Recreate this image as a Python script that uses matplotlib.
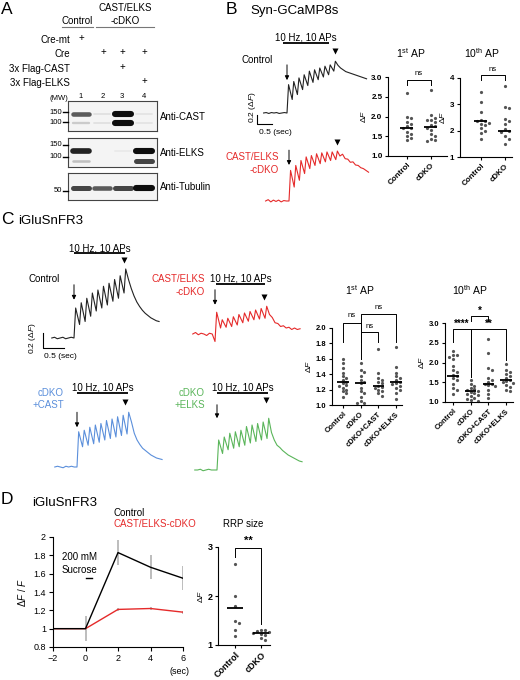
import matplotlib
matplotlib.use("Agg")
import matplotlib.pyplot as plt
from matplotlib.lines import Line2D

W, H = 520, 680

plt.rcParams['font.family'] = ['Liberation Sans', 'DejaVu Sans']
plt.rcParams['mathtext.fontset'] = 'custom'
plt.rcParams['mathtext.rm'] = 'Liberation Sans'
plt.rcParams['mathtext.it'] = 'Liberation Sans:italic'
plt.rcParams['mathtext.bf'] = 'Liberation Sans:bold'
plt.rcParams['axes.linewidth'] = 0.8

RED = '#e52a2a'
BLUE = '#5b8fdb'
GREEN = '#5ab55a'
DOT = '#555555'
ERR = '#b8b8b8'

# ---------------- A: western blot ----------------
lane_ids = ['1', '2', '3', '4']
cre_mt = [1, 0, 0, 0]
cre = [0, 1, 1, 1]
flag_cast = [0, 0, 1, 0]
flag_elks = [0, 0, 0, 1]
cast_150 = [0.65, 0.05, 1.0, 0.04]
cast_100 = [0.15, 0.05, 1.0, 0.04]
elks_150 = [0.9, 0.0, 0.02, 1.0]
elks_100 = [0.2, 0.0, 0.0, 0.75]
tub_50 = [0.75, 0.65, 0.75, 1.0]

# ---------------- B: Syn-GCaMP8s traces (dF) ----------------
# baseline every 50 ms, then the value before / at peak of each AP, then decay every 50 ms
gc_ctrl_base = [0.0, 0.01, -0.01, 0.01, 0.0, 0.01, -0.01, 0.0, 0.01]
gc_ctrl_trough = [0.0, 0.30, 0.41, 0.52, 0.61, 0.68, 0.74, 0.80, 0.85, 0.93]
gc_ctrl_peak = [0.63, 0.70, 0.78, 0.85, 0.93, 0.96, 1.00, 1.04, 1.07, 1.15]
gc_ctrl_tail = [1.06, 1.0, 0.96, 0.92, 0.9, 0.88, 0.86, 0.84, 0.82, 0.8, 0.78, 0.76]

gc_dko_base = [0.0, 0.03, -0.02, 0.02, -0.01, 0.02, -0.02, 0.01, 0.0]
gc_dko_trough = [0.0, 0.31, 0.46, 0.61, 0.72, 0.79, 0.83, 0.87, 0.90, 0.92]
gc_dko_peak = [0.68, 0.79, 0.90, 0.98, 1.01, 1.05, 1.07, 1.09, 1.09, 1.11]
gc_dko_tail = [1.0, 1.04, 0.94, 0.93, 0.86, 0.87, 0.8, 0.79, 0.74, 0.72, 0.68, 0.64]

b1_ctrl = [2.6, 2.0, 1.95, 1.85, 1.8, 1.75, 1.72, 1.7, 1.62, 1.55, 1.5, 1.45, 1.4]
b1_dko = [2.67, 2.03, 1.97, 1.92, 1.9, 1.85, 1.78, 1.75, 1.72, 1.65, 1.55, 1.5, 1.42, 1.4, 1.38]
b1_mid = [1.72, 1.73]
b10_ctrl = [3.45, 3.1, 2.7, 2.4, 2.35, 2.35, 2.3, 2.25, 2.2, 2.1, 2.0, 1.9, 1.7]
b10_dko = [3.7, 2.9, 2.85, 2.45, 2.35, 2.25, 2.05, 2.0, 1.95, 1.8, 1.7, 1.5]
b10_mid = [2.35, 2.0]
b_groups = ['Control', 'cDKO']

# ---------------- C: iGluSnFR3 traces (dF) ----------------
ig_ctrl_base = [0.0, 0.01, -0.01, 0.0, 0.01, -0.01, 0.0, 0.01]
ig_ctrl_trough = [0.0, 0.18, 0.22, 0.29, 0.36, 0.40, 0.44, 0.49, 0.53, 0.60]
ig_ctrl_peak = [0.40, 0.47, 0.53, 0.60, 0.64, 0.69, 0.73, 0.78, 0.83, 0.92]
ig_ctrl_tail = [0.78, 0.66, 0.56, 0.48, 0.42, 0.37, 0.33, 0.30, 0.27, 0.25, 0.23, 0.22]

ig_dko_base = [0.0, 0.02, -0.01, 0.01, 0.0, -0.02, 0.01, 0.0]
ig_dko_trough = [-0.10, 0.08, 0.09, 0.10, 0.12, 0.15, 0.17, 0.19, 0.20, 0.21]
ig_dko_peak = [0.29, 0.19, 0.21, 0.23, 0.26, 0.28, 0.30, 0.32, 0.34, 0.37]
ig_dko_tail = [0.26, 0.22, 0.15, 0.14, 0.10, 0.11, 0.08, 0.09, 0.06, 0.08, 0.06, 0.07]

ig_cast_base = [0.0, 0.01, 0.0, -0.01, 0.01, 0.0, 0.01, 0.0]
ig_cast_trough = [0.0, 0.27, 0.29, 0.31, 0.33, 0.36, 0.38, 0.40, 0.42, 0.44]
ig_cast_peak = [0.47, 0.49, 0.53, 0.56, 0.58, 0.62, 0.64, 0.67, 0.69, 0.73]
ig_cast_tail = [0.6, 0.45, 0.36, 0.30, 0.25, 0.22, 0.19, 0.16, 0.14, 0.12, 0.11, 0.1]

ig_elks_base = [0.0, 0.0, 0.01, -0.01, 0.0, 0.01, 0.0, 0.0]
ig_elks_trough = [0.0, 0.22, 0.27, 0.29, 0.31, 0.33, 0.36, 0.38, 0.40, 0.42]
ig_elks_peak = [0.40, 0.44, 0.49, 0.51, 0.53, 0.58, 0.60, 0.62, 0.64, 0.69]
ig_elks_tail = [0.50, 0.40, 0.33, 0.30, 0.26, 0.23, 0.20, 0.18, 0.16, 0.14, 0.12, 0.11]

c_groups = ['Control', 'cDKO', 'cDKO+CAST', 'cDKO+ELKS']
c1_vals = [
    [1.6, 1.55, 1.48, 1.42, 1.38, 1.35, 1.32, 1.3, 1.28, 1.26, 1.25, 1.22, 1.2, 1.18, 1.15, 1.1],
    [1.55, 1.45, 1.43, 1.38, 1.32, 1.3, 1.28, 1.22, 1.18, 1.15, 1.1, 1.05, 1.03, 1.02],
    [1.73, 1.42, 1.35, 1.33, 1.3, 1.28, 1.25, 1.24, 1.22, 1.2, 1.18, 1.15, 1.12],
    [1.75, 1.5, 1.42, 1.38, 1.35, 1.32, 1.3, 1.28, 1.27, 1.25, 1.22, 1.2, 1.15, 1.08],
]
c1_mid = [1.3, 1.28, 1.25, 1.3]
c10_vals = [
    [2.28, 2.2, 2.18, 2.15, 2.1, 1.9, 1.8, 1.75, 1.68, 1.65, 1.6, 1.55, 1.45, 1.35, 1.3, 1.2],
    [1.55, 1.45, 1.4, 1.35, 1.32, 1.3, 1.28, 1.25, 1.22, 1.2, 1.18, 1.15, 1.1, 1.08, 1.05, 1.03],
    [2.6, 2.25, 1.85, 1.8, 1.6, 1.55, 1.5, 1.45, 1.45, 1.42, 1.4, 1.3, 1.2, 1.1],
    [1.95, 1.8, 1.75, 1.7, 1.65, 1.6, 1.55, 1.52, 1.5, 1.48, 1.42, 1.38, 1.3, 1.28],
]
c10_mid = [1.66, 1.28, 1.45, 1.56]

# ---------------- D: sucrose ----------------
d_time = [-2, 0, 2, 4, 6]
d_ctrl = [1.0, 1.0, 1.83, 1.67, 1.55]
d_ctrl_err = [0.0, 0.14, 0.14, 0.13, 0.13]
d_dko = [1.0, 1.0, 1.21, 1.22, 1.18]
d_dko_err = [0.0, 0.0, 0.015, 0.015, 0.015]
rrp_ctrl = [2.65, 2.0, 1.8, 1.5, 1.45, 1.3, 1.18]
rrp_dko = [1.3, 1.3, 1.28, 1.26, 1.25, 1.22, 1.2, 1.15, 1.1]
rrp_mid = [1.75, 1.25]

fig = plt.figure(figsize=(W / 100, H / 100), dpi=100)


def px_axes(l, t, r, b):
    return fig.add_axes([l / W, 1 - b / H, (r - l) / W, (b - t) / H])


def ft(x, y, s, **kw):
    kw.setdefault('va', 'center')
    kw.setdefault('fontsize', 7)
    fig.text(x / W, 1 - y / H, s, **kw)


def fline(x1, y1, x2, y2, **kw):
    kw.setdefault('color', 'k')
    kw.setdefault('lw', 0.8)
    fig.add_artist(Line2D([x1 / W, x2 / W], [1 - y1 / H, 1 - y2 / H], **kw))


# headers
ft(1, 9, 'A', fontsize=12.5)
ft(226, 10, 'B', fontsize=12.5)
ft(250, 11, 'Syn-GCaMP8s', fontsize=9.5)
ft(1, 219, 'C', fontsize=12.5)
ft(18, 221, 'iGluSnFR3', fontsize=9.5)
ft(1, 500, 'D', fontsize=12.5)
ft(32, 503, 'iGluSnFR3', fontsize=9.5)

# ---- A ----
lane_px = [81, 103, 122, 144]
ft(77, 21, 'Control', ha='center')
fline(62, 27, 93, 27, color='#777')
ft(125, 8, 'CAST/ELKS', ha='center')
ft(125, 21, '-cDKO', ha='center')
fline(96, 27, 154, 27, color='#777')
for row, (name, flags) in enumerate([('Cre-mt', cre_mt), ('Cre', cre),
                                      ('3x Flag-CAST', flag_cast), ('3x Flag-ELKS', flag_elks)]):
    y = 40 + row * 14.3
    ft(70, y, name, ha='right')
    for xp, f in zip(lane_px, flags):
        if f:
            ft(xp, y - 2, '+', ha='center', fontsize=7)
ft(68, 98, '(MW)', ha='right', fontsize=5.5)
for xp, s in zip(lane_px, lane_ids):
    ft(xp, 97, s, ha='center', fontsize=5.5)

blots = [
    ((68, 101, 157, 131), [(114, cast_150), (123, cast_100)], [(112, '150'), (122, '100')], 'Anti-CAST'),
    ((68, 138, 157, 167), [(151, elks_150), (161, elks_100)], [(145, '150'), (157, '100')], 'Anti-ELKS'),
    ((68, 173, 157, 200), [(188, tub_50)], [(191, '50')], 'Anti-Tubulin'),
]
for box, bands, markers, name in blots:
    ax = px_axes(*box)
    ax.set_facecolor('#f4f4f4')
    ax.set_xlim(0.38, 4.62)
    ax.set_ylim(box[3], box[1])
    for yb, inten in bands:
        for ln, v in zip(range(1, 5), inten):
            if v > 0.01:
                g = 0.93 - 0.88 * v
                ax.plot([ln - 0.36, ln + 0.36], [yb, yb], color=str(g),
                        lw=1.2 + 3.2 * v, solid_capstyle='round')
    ax.set_xticks([])
    ax.set_yticks([])
    for s in ax.spines.values():
        s.set_color('#444')
    for ym, lab in markers:
        ft(62, ym, lab, ha='right', fontsize=5.5)
        fline(63, ym, 68, ym, lw=1.0)
    ft(160, (box[1] + box[3]) / 2 + 1, name)


# ---- trace helpers ----
def build_trace(base, troughs, peaks, tail, dt=0.05, isi=0.1, rise=0.03):
    t = [-(len(base) - i) * dt for i in range(len(base))]
    v = list(base)
    for k in range(len(peaks)):
        t += [k * isi, k * isi + rise]
        v += [troughs[k], peaks[k]]
    t_end = (len(peaks) - 1) * isi + rise
    t += [t_end + (i + 1) * dt for i in range(len(tail))]
    v += list(tail)
    return t, v


def trace_axes(box, x0, y0, pxs, pxu):
    l, t, r, b = box
    ax = px_axes(l, t, r, b)
    ax.set_xlim((l - x0) / pxs, (r - x0) / pxs)
    ax.set_ylim((y0 - b) / pxu, (y0 - t) / pxu)
    ax.axis('off')
    return ax


def decorate(ax, arrow, tri, bar=None):
    if bar is not None:
        t0, t1, yb = bar
        ax.plot([t0, t1], [yb, yb], color='k', lw=1.3, clip_on=False, solid_capstyle='butt')
        ax.text((t0 + t1) / 2, yb, '10 Hz, 10 APs', ha='center', va='bottom', fontsize=7)
    ax.annotate('', xy=(0, arrow[1]), xytext=(0, arrow[0]),
                arrowprops=dict(arrowstyle='-|>', color='k', lw=0.7, mutation_scale=6,
                                shrinkA=0, shrinkB=0), annotation_clip=False)
    ax.plot(tri[0], tri[1], marker='v', ms=4.5, color='k', mec='none', clip_on=False)


# ---- B traces ----
ax = trace_axes((240, 30, 372, 140), 287, 113, 52, 45)
t, v = build_trace(gc_ctrl_base, gc_ctrl_trough, gc_ctrl_peak, gc_ctrl_tail)
ax.plot(t, v, color='#222', lw=0.8)
decorate(ax, (1.07, 0.73), (0.925, 1.38), (-0.07, 0.8, 1.56))
ax.plot([-0.58, -0.58, -0.29], [-0.05, -0.25, -0.25], color='k', lw=0.8, clip_on=False)
ft(252, 107, r'0.2 ($\Delta\mathit{F}$)', ha='center', rotation=90, fontsize=6)
ft(275, 132, '0.5 (sec)', ha='center', fontsize=6)
ft(273, 60, 'Control', ha='right')

ax = trace_axes((240, 140, 372, 210), 289, 201, 52, 45)
t, v = build_trace(gc_dko_base, gc_dko_trough, gc_dko_peak, gc_dko_tail)
ax.plot(t, v, color=RED, lw=0.8)
decorate(ax, (1.13, 0.80), (0.925, 1.31))
ft(279, 157, 'CAST/ELKS', ha='right', color=RED)
ft(279, 170, '-cDKO', ha='right', color=RED)


# ---- dot plot helpers ----
def swarm(vals, tol, step):
    placed, xs = [], []
    for v in vals:
        for k in range(20):
            o = ((k + 1) // 2) * (1 if k % 2 else -1) * step
            if all(abs(o - po) > step / 2 or abs(v - pv) > tol for po, pv in placed):
                break
        placed.append((o, v))
        xs.append(o)
    return xs


def dot_axes(box, groups, mids, names, xlim, ylim, yticks, yfmt, hw, tol, step, fs=5.8):
    ax = px_axes(*box)
    for i, vals in enumerate(groups):
        offs = swarm(vals, tol, step)
        ax.plot([i + o for o in offs], vals, 'o', ms=2.3, color=DOT, mec='none',
                clip_on=False, zorder=2)
        ax.plot([i - hw, i + hw], [mids[i]] * 2, color='k', lw=1.3, zorder=3,
                solid_capstyle='butt')
    ax.set_xlim(*xlim)
    ax.set_ylim(*ylim)
    ax.set_yticks(yticks)
    ax.set_yticklabels([yfmt.format(y) for y in yticks], fontsize=fs, fontweight='bold')
    ax.set_xticks(range(len(names)))
    ax.set_xticklabels(names, rotation=45, ha='right', rotation_mode='anchor',
                       fontsize=fs, fontweight='bold')
    ax.tick_params(length=2.5, width=0.8, pad=1.5)
    for s in ('top', 'right'):
        ax.spines[s].set_visible(False)
    ax.set_ylabel(r'$\Delta\mathit{F}$', fontsize=6, labelpad=2)
    return ax


def bracket(ax, x1, x2, top, y1, y2, label, ty, fs=5.5, bold=False):
    ax.plot([x1, x1, x2, x2], [y1, top, top, y2], color='k', lw=0.7, clip_on=False)
    ax.text((x1 + x2) / 2, ty, label, ha='center', va='center', fontsize=fs,
            fontweight='bold' if bold else 'normal')


# ---- B dot plots ----
ax = dot_axes((388, 77, 447, 156), [b1_ctrl, b1_dko], b1_mid, b_groups, (-0.79, 1.67),
              (1, 3), [1.0, 1.5, 2.0, 2.5, 3.0], '{:.1f}', 0.27, 0.075, 0.17)
bracket(ax, 0, 1, 2.92, 2.8, 2.8, 'ns', 3.1)
ft(411, 53, r'1$^{\mathrm{st}}$ AP', ha='center', fontsize=7.5)

ax = dot_axes((460, 78, 512, 157), [b10_ctrl, b10_dko], b10_mid, b_groups, (-0.875, 1.3),
              (1, 4), [1, 2, 3, 4], '{:d}', 0.27, 0.11, 0.17)
bracket(ax, 0, 1, 4.11, 3.92, 3.92, 'ns', 4.32)
ft(482, 53, r'10$^{\mathrm{th}}$ AP', ha='center', fontsize=7.5)

# ---- C traces ----
c_traces = [
    ((35, 240, 170, 360), 74, 338, (ig_ctrl_base, ig_ctrl_trough, ig_ctrl_peak, ig_ctrl_tail),
     '#222', (0.71, 0.51), (0.9, 1.04), (0.0, 0.92, 1.13)),
    ((185, 270, 305, 350), 215, 334, (ig_dko_base, ig_dko_trough, ig_dko_peak, ig_dko_tail),
     RED, (0.59, 0.39), (0.88, 0.49), (0.02, 0.9, 0.67)),
    ((45, 380, 165, 475), 77, 467, (ig_cast_base, ig_cast_trough, ig_cast_peak, ig_cast_tail),
     BLUE, (0.73, 0.53), (0.86, 0.87), (0.0, 0.92, 0.99)),
    ((185, 380, 305, 478), 217, 470, (ig_elks_base, ig_elks_trough, ig_elks_peak, ig_elks_tail),
     GREEN, (0.87, 0.69), (0.88, 0.93), (0.0, 0.92, 1.03)),
]
for box, x0, y0, parts, col, arrow, tri, bar in c_traces:
    ax = trace_axes(box, x0, y0, 55.6, 75)
    t, v = build_trace(*parts)
    ax.plot(t, v, color=col, lw=0.8)
    decorate(ax, arrow, tri, bar)
    if col == '#222':
        ax.plot([-0.56, -0.56, -0.18], [0.07, -0.13, -0.13], color='k', lw=0.8, clip_on=False)

ft(33, 338, r'0.2 ($\Delta\mathit{F}$)', ha='center', rotation=90, fontsize=6)
ft(60, 357, '0.5 (sec)', ha='center', fontsize=6)
ft(60, 279, 'Control', ha='right')
ft(205, 279, 'CAST/ELKS', ha='right', color=RED)
ft(205, 292, '-cDKO', ha='right', color=RED)
ft(64, 393, 'cDKO', ha='right', color=BLUE)
ft(64, 405, '+CAST', ha='right', color=BLUE)
ft(205, 393, 'cDKO', ha='right', color=GREEN)
ft(205, 405, '+ELKS', ha='right', color=GREEN)

# ---- C dot plots ----
ax = dot_axes((332, 328, 402, 405), c1_vals, c1_mid, c_groups, (-0.62, 3.34),
              (1, 2), [1.0, 1.2, 1.4, 1.6, 1.8, 2.0], '{:.1f}', 0.32, 0.04, 0.2, fs=5.5)
bracket(ax, 0, 1, 2.07, 1.82, 1.6, 'ns', 2.16)
bracket(ax, 1, 2, 1.95, 1.82, 1.82, 'ns', 2.02)
bracket(ax, 1, 3, 2.18, 1.95, 1.82, 'ns', 2.27)
ft(360, 290, r'1$^{\mathrm{st}}$ AP', ha='center', fontsize=7.5)

ax = dot_axes((445, 323, 513, 402), c10_vals, c10_mid, c_groups, (-0.45, 3.39),
              (1, 3), [1.0, 1.5, 2.0, 2.5, 3.0], '{:.1f}', 0.32, 0.075, 0.2, fs=5.5)
bracket(ax, 0, 1, 2.85, 2.53, 1.64, '****', 2.98, fs=7, bold=True)
bracket(ax, 1, 3, 2.85, 1.64, 2.06, '**', 2.98, fs=7, bold=True)
bracket(ax, 1, 2, 3.18, 3.05, 3.05, '*', 3.3, fs=7, bold=True)
ft(470, 290, r'10$^{\mathrm{th}}$ AP', ha='center', fontsize=7.5)

# ---- D line plot ----
ax = px_axes(53, 537, 183, 647)
ax.vlines(d_time, [m - e for m, e in zip(d_ctrl, d_ctrl_err)],
          [m + e for m, e in zip(d_ctrl, d_ctrl_err)], color=ERR, lw=1.3, zorder=1)
ax.vlines(d_time, [m - e for m, e in zip(d_dko, d_dko_err)],
          [m + e for m, e in zip(d_dko, d_dko_err)], color=ERR, lw=1.3, zorder=1)
ax.plot(d_time, d_ctrl, color='k', lw=1.0, zorder=3)
ax.plot(d_time, d_dko, color=RED, lw=1.0, zorder=2)
ax.plot([0, 0.4], [1.55, 1.55], color='k', lw=1.0)
ax.text(-1.45, 1.78, '200 mM', fontsize=7, va='center')
ax.text(-1.45, 1.64, 'Sucrose', fontsize=7, va='center')
ax.set_xlim(-2, 6)
ax.set_ylim(0.8, 2)
ax.set_xticks(d_time)
ax.set_yticks([0.8, 1.0, 1.2, 1.4, 1.6, 1.8, 2.0])
ax.set_yticklabels(['0.8', '1', '1.2', '1.4', '1.6', '1.8', '2'])
ax.tick_params(labelsize=6.5, length=3, width=0.8, pad=2)
for s in ('top', 'right'):
    ax.spines[s].set_visible(False)
ax.set_ylabel(r'$\Delta\mathit{F}$ / $\mathit{F}$', fontsize=7, labelpad=4)
ft(180, 672, '(sec)', ha='center', fontsize=6.5)
ft(113, 513, 'Control', ha='left')
ft(113, 524, 'CAST/ELKS-cDKO', ha='left', color=RED)

# ---- D RRP ----
ax = dot_axes((218, 547, 270, 645), [rrp_ctrl, rrp_dko], rrp_mid, b_groups, (-0.65, 1.35),
              (1, 3), [1, 2, 3], '{:d}', 0.3, 0.06, 0.15, fs=6.5)
bracket(ax, 0, 1, 2.98, 2.8, 1.42, '**', 3.12, fs=8, bold=True)
ft(243, 524, 'RRP size', ha='center', fontsize=7)

fig.savefig('out.png', dpi=100)
